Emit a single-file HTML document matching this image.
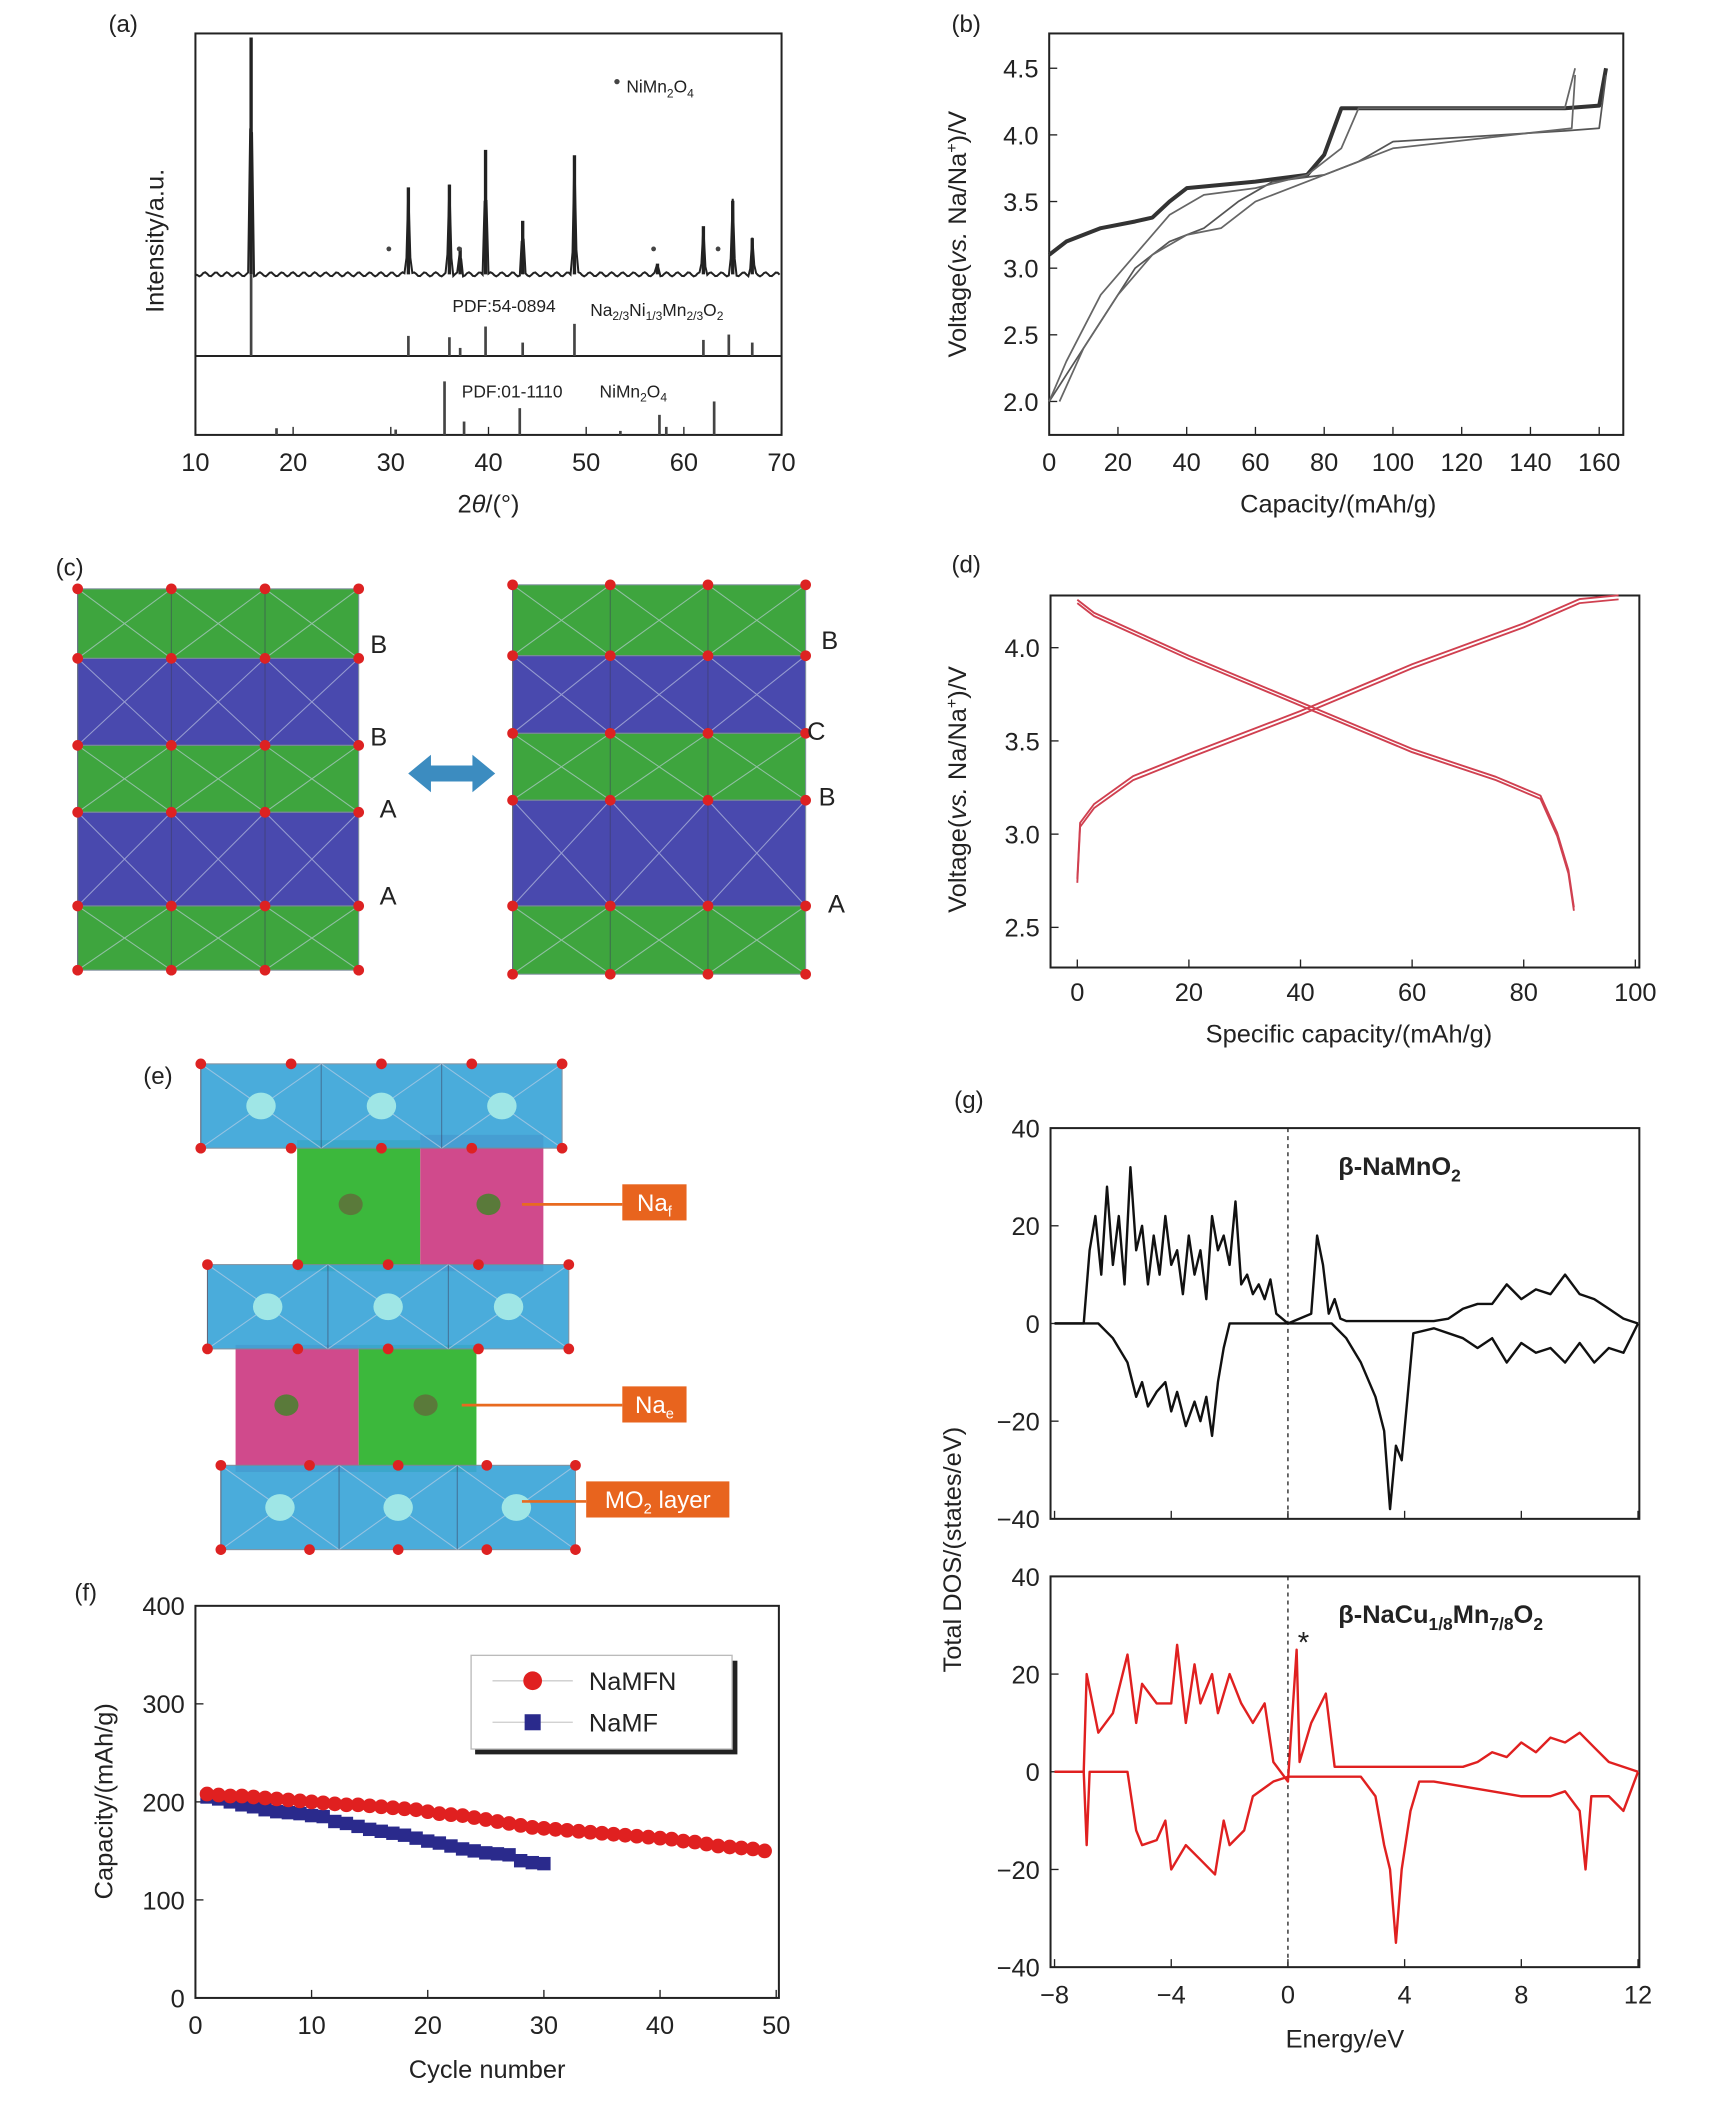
<!DOCTYPE html>
<html><head><meta charset="utf-8"><style>
html,body{margin:0;padding:0;background:#fff}
svg{display:block}
text{font-family:"Liberation Sans",sans-serif;fill:#222}
</style></head><body>
<svg id="fig" width="1713" height="2109" viewBox="0 0 1280 1576" xmlns="http://www.w3.org/2000/svg"></svg>
<script>
// ---------- data ----------
const xrdPeaks2theta=[15.7,31.8,36.0,37.1,39.7,43.5,48.8,57.3,62.0,65.0,67.0];
const xrdPeakHeights=[177,65,67,20,93,40,89,8,36,55,27];
const ref1Pos=[15.7,31.8,36.0,37.1,39.7,43.5,48.8,62.0,64.6,67.0];
const ref1Height=[61,15,14,6,22,10,24,12,16,10];
const ref2Pos=[18.3,30.5,35.5,37.5,43.2,53.5,57.5,58.2,63.1];
const ref2Height=[5,4,40,10,20,3,15,6,25];

const bCharge1Cap=[0,5,15,25,30,35,40,60,75,80,85,150,160,162];
const bCharge1V=[3.1,3.2,3.3,3.35,3.38,3.5,3.6,3.65,3.7,3.85,4.2,4.2,4.22,4.5];
const bDis1Cap=[162,160,150,100,90,80,65,55,45,35,25,15,5,0];
const bDis1V=[4.45,4.05,4.03,3.95,3.8,3.7,3.65,3.5,3.3,3.2,3.0,2.6,2.2,2.0];
const bCharge2Cap=[0,5,15,25,35,45,60,75,85,90,150,153];
const bCharge2V=[2.0,2.3,2.8,3.1,3.4,3.55,3.6,3.7,3.9,4.2,4.2,4.5];
const bDis2Cap=[153,152,100,80,60,50,40,30,20,10,3];
const bDis2V=[4.45,4.05,3.9,3.7,3.5,3.3,3.25,3.1,2.8,2.4,2.0];

const dChargeCap=[0,0.5,3,10,20,40,60,80,90,97];
const dChargeV=[2.75,3.05,3.15,3.3,3.42,3.65,3.9,4.12,4.25,4.27];
const dDisCap=[0,3,20,40,60,75,83,86,88,89];
const dDisV=[4.25,4.18,3.95,3.7,3.45,3.3,3.2,3.0,2.8,2.6];

const cycleMFN=[208,207,206,206,205,204,203,202,201,200,199,198,197,197,196,195,194,193,192,190,188,187,186,184,182,180,178,176,174,173,172,171,170,169,168,167,166,165,164,163,162,160,159,157,155,154,153,152,150];
const cycleMF=[205,203,200,197,195,192,190,189,188,186,185,180,178,175,172,170,168,166,163,160,158,155,152,150,148,147,146,140,138,137];

const topUpE=[-8,-7,-6.8,-6.6,-6.4,-6.2,-6,-5.8,-5.6,-5.4,-5.2,-5,-4.8,-4.6,-4.4,-4.2,-4,-3.8,-3.6,-3.4,-3.2,-3,-2.8,-2.6,-2.4,-2.2,-2,-1.8,-1.6,-1.4,-1.2,-1,-0.8,-0.6,-0.4,0,0.8,1,1.2,1.4,1.6,1.8,2,5,5.5,6,6.5,7,7.5,8,8.5,9,9.5,10,10.5,11,11.5,12];
const topUpD=[0,0,15,22,10,28,12,22,8,32,15,20,8,18,10,22,12,15,6,18,10,15,5,22,15,18,12,25,8,10,6,8,5,9,2,0,2,18,12,2,5,1,0.5,0.5,1,3,4,4,8,5,7,6,10,6,5,3,1,0];
const topDnE=[-8,-6.5,-6,-5.5,-5.2,-5,-4.8,-4.5,-4.2,-4,-3.8,-3.5,-3.2,-3,-2.8,-2.6,-2.4,-2.2,-2,1.5,2,2.5,3,3.3,3.5,3.7,3.9,4.1,4.3,5,6,6.5,7,7.5,8,8.5,9,9.5,10,10.5,11,11.5,12];
const topDnD=[0,0,-3,-8,-15,-12,-17,-14,-12,-18,-14,-21,-16,-20,-15,-23,-12,-5,0,0,-3,-8,-15,-22,-38,-25,-28,-15,-2,-1,-3,-5,-3,-8,-4,-6,-5,-8,-4,-8,-5,-6,0];
const botUpE=[-8,-7,-6.9,-6.5,-6,-5.5,-5.2,-5,-4.5,-4,-3.8,-3.5,-3.2,-3,-2.6,-2.4,-2,-1.6,-1.2,-0.8,-0.5,0,0.3,0.4,0.8,1.3,1.6,2,6,6.5,7,7.5,8,8.5,9,9.5,10,10.5,11,12];
const botUpD=[0,0,20,8,12,24,10,18,14,14,26,10,22,14,20,12,20,14,10,14,2,-2,25,2,10,16,1,1,1,2,4,3,6,4,7,6,8,5,2,0];
const botDnE=[-8,-7,-6.9,-6.8,-5.5,-5.2,-5,-4.5,-4.2,-4,-3.5,-3,-2.5,-2.2,-2,-1.5,-1.2,-0.5,0,2.5,3,3.3,3.5,3.7,3.9,4.2,4.5,5,6,7,8,9,9.5,10,10.2,10.4,11,11.5,12];
const botDnD=[0,0,-15,0,0,-12,-15,-14,-10,-20,-15,-18,-21,-10,-15,-12,-5,-2,-1,-1,-5,-15,-20,-35,-20,-8,-2,-2,-3,-4,-5,-5,-4,-8,-20,-5,-5,-8,0];

// ---------- helpers ----------
const svg=document.getElementById('fig');
const NS='http://www.w3.org/2000/svg';
function el(tag,attrs,parent){const e=document.createElementNS(NS,tag);for(const k in attrs)e.setAttribute(k,attrs[k]);(parent||svg).appendChild(e);return e;}
function txt(x,y,s,size,anchor,parent,extra){const t=el('text',Object.assign({x:x,y:y,'font-size':size,'text-anchor':anchor||'middle'},extra||{}),parent);t.innerHTML=s;return t;}
function lin(x0,x1,p0,p1){return v=>p0+(v-x0)*(p1-p0)/(x1-x0);}
function poly(xs,ys,fx,fy,stroke,w,parent){let d='';for(let i=0;i<xs.length;i++)d+=(i?'L':'M')+fx(xs[i]).toFixed(1)+','+fy(ys[i]).toFixed(1);return el('path',{d:d,fill:'none',stroke:stroke,'stroke-width':w,'stroke-linejoin':'round'},parent);}
function group(name){const g=el('g',{});return g;}

// ---------- panel a ----------
(function(){
const g=group('panel-a-xrd');
txt(92,24,'(a)',18,'middle',g);
const fx=lin(10,70,146,584);
el('rect',{x:146,y:25,width:438,height:300,fill:'none',stroke:'#222','stroke-width':1.5},g);
el('line',{x1:146,y1:266,x2:584,y2:266,stroke:'#222','stroke-width':1.5},g);
const xt=[10,20,30,40,50,60,70];
xt.forEach(v=>{el('line',{x1:fx(v),y1:325,x2:fx(v),y2:319,stroke:'#222'},g);txt(fx(v),352,v,19,'middle',g);});
txt(365,383,'2<tspan font-style="italic">θ</tspan>/(°)',19,'middle',g);
const yl=txt(122,180,'Intensity/a.u.',19,'middle',g);yl.setAttribute('transform','rotate(-90 122 180)');
let d='M146,205';
for(let t=10.2;t<=70;t+=0.2){let y=205+Math.sin(t*37)*1.5;
 for(let i=0;i<xrdPeaks2theta.length;i++){const dd=Math.abs(t-xrdPeaks2theta[i]);if(dd<0.25)y-=xrdPeakHeights[i]*(1-dd/0.25);}
 d+='L'+fx(t).toFixed(1)+','+y.toFixed(1);}
el('path',{d:d,fill:'none',stroke:'#222','stroke-width':1.5},g);
xrdPeaks2theta.forEach((p,i)=>{el('line',{x1:fx(p),y1:205,x2:fx(p),y2:205-xrdPeakHeights[i],stroke:'#222','stroke-width':2.5},g);});
[29.8,37,56.9,63.5].forEach(p=>el('circle',{cx:fx(p),cy:186,r:1.8,fill:'#444'},g));
el('circle',{cx:461,cy:61,r:2,fill:'#444'},g);
txt(468,69,'NiMn<tspan font-size="9" dy="4">2</tspan><tspan dy="-4">O</tspan><tspan font-size="9" dy="4">4</tspan>',13,'start',g);
ref1Pos.forEach((p,i)=>el('line',{x1:fx(p),y1:266,x2:fx(p),y2:266-ref1Height[i],stroke:'#444','stroke-width':2},g));
ref2Pos.forEach((p,i)=>el('line',{x1:fx(p),y1:325,x2:fx(p),y2:325-ref2Height[i],stroke:'#444','stroke-width':2},g));
txt(338,233,'PDF:54-0894',13,'start',g);
txt(441,236,'Na<tspan font-size="9" dy="3">2/3</tspan><tspan dy="-3">Ni</tspan><tspan font-size="9" dy="3">1/3</tspan><tspan dy="-3">Mn</tspan><tspan font-size="9" dy="3">2/3</tspan><tspan dy="-3">O</tspan><tspan font-size="9" dy="3">2</tspan>',13,'start',g);
txt(345,297,'PDF:01-1110',13,'start',g);
txt(448,297,'NiMn<tspan font-size="9" dy="3">2</tspan><tspan dy="-3">O</tspan><tspan font-size="9" dy="3">4</tspan>',13,'start',g);
})();

// ---------- panel b ----------
(function(){
const g=group('panel-b-voltage');
txt(722,24,'(b)',18,'middle',g);
const fx=lin(0,160,784,1195),fy=lin(2,4.5,300,51);
el('rect',{x:784,y:25,width:429,height:300,fill:'none',stroke:'#222','stroke-width':1.5},g);
[0,20,40,60,80,100,120,140,160].forEach(v=>{el('line',{x1:fx(v),y1:325,x2:fx(v),y2:319,stroke:'#222'},g);txt(fx(v),352,v,19,'middle',g);});
[2.0,2.5,3.0,3.5,4.0,4.5].forEach(v=>{el('line',{x1:784,y1:fy(v),x2:790,y2:fy(v),stroke:'#222'},g);txt(776,fy(v)+7,v.toFixed(1),19,'end',g);});
txt(1000,383,'Capacity/(mAh/g)',19,'middle',g);
const yl=txt(722,175,'Voltage(<tspan font-style="italic">vs.</tspan> Na/Na<tspan font-size="12" dy="-7">+</tspan><tspan dy="7">)/V</tspan>',19,'middle',g);yl.setAttribute('transform','rotate(-90 722 175)');
poly(bCharge1Cap,bCharge1V,fx,fy,'#333',3,g);
poly(bDis1Cap,bDis1V,fx,fy,'#555',1.3,g);
poly(bCharge2Cap,bCharge2V,fx,fy,'#666',1.3,g);
poly(bDis2Cap,bDis2V,fx,fy,'#666',1.3,g);
})();

// ---------- crystal helper ----------
function layer(g,x0,x1,y0,y1,color,n){
 el('rect',{x:x0,y:y0,width:x1-x0,height:y1-y0,fill:color,stroke:'#7a8a9a','stroke-width':0.8,opacity:0.92},g);
 const w=(x1-x0)/n;
 for(let i=0;i<n;i++){const a=x0+i*w;
  el('path',{d:`M${a},${y0}L${a+w/2},${(y0+y1)/2}L${a+w},${y0}M${a},${y1}L${a+w/2},${(y0+y1)/2}L${a+w},${y1}`,fill:'none',stroke:'rgba(200,210,230,0.6)','stroke-width':0.8},g);
  el('line',{x1:a,y1:y0,x2:a,y2:y1,stroke:'rgba(60,60,90,0.5)','stroke-width':0.8},g);
 }
}
function dots(g,x0,x1,y,n){for(let i=0;i<=n;i++)el('circle',{cx:x0+i*(x1-x0)/n,cy:y,r:4,fill:'#d22'},g);}

// ---------- panel c ----------
(function(){
const g=group('panel-c-structures');
txt(52,430,'(c)',18,'middle',g);
function stack(x0,x1,bands){
 bands.forEach(b=>layer(g,x0,x1,b[0],b[1],b[2],3));
 bands.forEach(b=>{dots(g,x0,x1,b[0],3);});dots(g,x0,x1,bands[bands.length-1][1],3);
}
stack(58,268,[[440,492,'#2e9e2e'],[492,557,'#3a3aa8'],[557,607,'#2e9e2e'],[607,677,'#3a3aa8'],[677,725,'#2e9e2e']]);
stack(383,602,[[437,490,'#2e9e2e'],[490,548,'#3a3aa8'],[548,598,'#2e9e2e'],[598,677,'#3a3aa8'],[677,728,'#2e9e2e']]);
[['B',283,488],['B',283,557],['A',290,611],['A',290,676],['B',620,485],['C',610,553],['B',618,602],['A',625,682]].forEach(l=>txt(l[1],l[2],l[0],19,'middle',g));
const ar=el('path',{d:'M305,578L322,564L322,572L353,572L353,564L370,578L353,592L353,584L322,584L322,592Z',fill:'#3c8cc0'},g);

})();

// ---------- panel d ----------
(function(){
const g=group('panel-d-voltage');
txt(722,428,'(d)',18,'middle',g);
const fx=lin(0,100,805,1222),fy=lin(2.5,4.0,693,484);
el('rect',{x:785,y:445,width:440,height:278,fill:'none',stroke:'#222','stroke-width':1.5},g);
[0,20,40,60,80,100].forEach(v=>{el('line',{x1:fx(v),y1:723,x2:fx(v),y2:717,stroke:'#222'},g);txt(fx(v),748,v,19,'middle',g);});
[2.5,3.0,3.5,4.0].forEach(v=>{el('line',{x1:785,y1:fy(v),x2:791,y2:fy(v),stroke:'#222'},g);txt(777,fy(v)+7,v.toFixed(1),19,'end',g);});
txt(1008,779,'Specific capacity/(mAh/g)',19,'middle',g);
const yl=txt(722,590,'Voltage(<tspan font-style="italic">vs.</tspan> Na/Na<tspan font-size="12" dy="-7">+</tspan><tspan dy="7">)/V</tspan>',19,'middle',g);yl.setAttribute('transform','rotate(-90 722 590)');
poly(dChargeCap,dChargeV,fx,v=>fy(v)-1.5,'#d04050',1.4,g);
poly(dChargeCap,dChargeV,fx,v=>fy(v)+1.5,'#d04050',1.4,g);
poly(dDisCap,dDisV,fx,v=>fy(v)-1,'#d04050',1.4,g);
poly(dDisCap,dDisV,fx,v=>fy(v)+1.5,'#d04050',1.4,g);
})();

// ---------- panel e ----------
(function(){
const g=group('panel-e-structure');
txt(118,810,'(e)',18,'middle',g);
el('rect',{x:222,y:852,width:92,height:98,fill:'#3cb83c'},g);
el('rect',{x:314,y:848,width:92,height:102,fill:'#d04a8c'},g);
el('rect',{x:176,y:1005,width:92,height:95,fill:'#d04a8c'},g);
el('rect',{x:268,y:1005,width:88,height:95,fill:'#3cb83c'},g);
[[150,420,795,858],[155,425,945,1008],[165,430,1095,1158]].forEach(b=>{
 layer(g,b[0],b[1],b[2],b[3],'#3ba6d8',3);dots(g,b[0],b[1],b[2],4);dots(g,b[0],b[1],b[3],4);
 for(let i=0;i<3;i++)el('ellipse',{cx:b[0]+(i+0.5)*(b[1]-b[0])/3,cy:(b[2]+b[3])/2,rx:11,ry:10,fill:'#9fe6e6'},g);});
[[262,900],[365,900],[214,1050],[318,1050]].forEach(p=>el('ellipse',{cx:p[0],cy:p[1],rx:9,ry:8,fill:'#5a7a3a'},g));
[[390,900,465,'Na<tspan font-size="11" dy="4">f</tspan>',465,885,48],[345,1050,465,'Na<tspan font-size="11" dy="4">e</tspan>',465,1036,48],[390,1122,438,'MO<tspan font-size="11" dy="4">2</tspan><tspan dy="-4"> layer</tspan>',438,1107,107]].forEach(l=>{
 el('line',{x1:l[0],y1:l[1],x2:l[2],y2:l[1],stroke:'#e86a20','stroke-width':2},g);
 el('rect',{x:l[4],y:l[5],width:l[6],height:27,fill:'#e8641e'},g);
 const t=txt(l[4]+l[6]/2,l[5]+20,l[3],18,'middle',g);t.setAttribute('fill','#fff');t.style.fill='#fff';});
})();

// ---------- panel f ----------
(function(){
const g=group('panel-f-cycling');
txt(64,1196,'(f)',18,'middle',g);
const fx=lin(0,50,146,580),fy=lin(0,400,1493,1200);
el('rect',{x:146,y:1200,width:436,height:293,fill:'none',stroke:'#222','stroke-width':1.5},g);
[0,10,20,30,40,50].forEach(v=>{el('line',{x1:fx(v),y1:1493,x2:fx(v),y2:1487,stroke:'#222'},g);txt(fx(v),1520,v,19,'middle',g);});
[0,100,200,300,400].forEach(v=>{el('line',{x1:146,y1:fy(v),x2:152,y2:fy(v),stroke:'#222'},g);txt(138,fy(v)+7,v,19,'end',g);});
txt(364,1553,'Cycle number',19,'middle',g);
const yl=txt(84,1346,'Capacity/(mAh/g)',19,'middle',g);yl.setAttribute('transform','rotate(-90 84 1346)');
cycleMF.forEach((v,i)=>{const r=el('rect',{x:fx(i+1)-5,y:fy(v)-5,width:10,height:10,fill:'#2a2a8c'},g);});
cycleMFN.forEach((v,i)=>{const c=el('circle',{cx:fx(i+1),cy:fy(v),r:5.5,fill:'#e02020'},g);});
const lg=group('legend');g.appendChild(lg);
el('rect',{x:355,y:1241,width:196,height:70,fill:'#222'},lg);
el('rect',{x:352,y:1237,width:195,height:70,fill:'#fff',stroke:'#bbb'},lg);
el('line',{x1:368,y1:1256,x2:428,y2:1256,stroke:'#ccc'},lg);el('circle',{cx:398,cy:1256,r:7,fill:'#e02020'},lg);
txt(440,1263,'NaMFN',19,'start',lg);
el('line',{x1:368,y1:1287,x2:428,y2:1287,stroke:'#ccc'},lg);el('rect',{x:392,y:1281,width:12,height:12,fill:'#2a2a8c'},lg);
txt(440,1294,'NaMF',19,'start',lg);
})();

// ---------- panel g ----------
(function(){
const g=group('panel-g-dos');
txt(724,828,'(g)',18,'middle',g);
const fx=lin(-8,12,788,1224);
function box(y0,y1,uE,uD,dE,dD,col,label){
 const fy=lin(-40,40,y1,y0);
 el('rect',{x:785,y:y0,width:440,height:y1-y0,fill:'none',stroke:'#222','stroke-width':1.5},g);
 [-40,-20,0,20,40].forEach(v=>{el('line',{x1:785,y1:fy(v),x2:791,y2:fy(v),stroke:'#222'},g);txt(777,fy(v)+7,v===-40||v===-20?'−'+(-v):v,19,'end',g);});
 [-8,-4,0,4,8,12].forEach(v=>el('line',{x1:fx(v),y1:y1,x2:fx(v),y2:y1-6,stroke:'#222'},g));
 el('line',{x1:fx(0),y1:y0,x2:fx(0),y2:y1,stroke:'#222','stroke-dasharray':'3,3'},g);
 poly(uE,uD,fx,fy,col,1.8,g);poly(dE,dD,fx,fy,col,1.8,g);
 txt(1000,y0+35,label,19,'start',g,{'font-family':'Liberation Serif','font-weight':'bold'});
}
box(843,1135,topUpE,topUpD,topDnE,topDnD,'#111','β-NaMnO<tspan font-size="13" dy="5">2</tspan>');
box(1178,1470,botUpE,botUpD,botDnE,botDnD,'#e02020','β-NaCu<tspan font-size="13" dy="5">1/8</tspan><tspan dy="-5">Mn</tspan><tspan font-size="13" dy="5">7/8</tspan><tspan dy="-5">O</tspan><tspan font-size="13" dy="5">2</tspan>');
txt(974,1235,'*',22,'middle',g);
[-8,-4,0,4,8,12].forEach(v=>txt(fx(v),1497,v<0?'−'+(-v):v,19,'middle',g));
txt(1005,1530,'Energy/eV',19,'middle',g);
const yl=txt(718,1158,'Total DOS/(states/eV)',19,'middle',g);yl.setAttribute('transform','rotate(-90 718 1158)');
})();
</script>
</body></html>
